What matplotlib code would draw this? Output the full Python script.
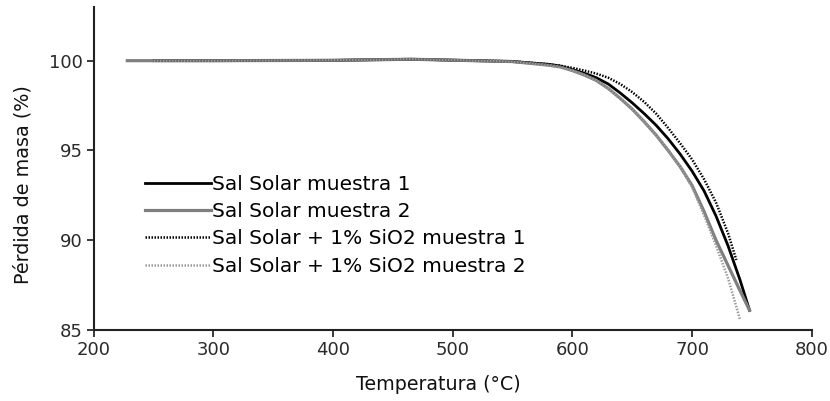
import matplotlib.pyplot as plt

plt.rcParams['font.family'] = ['DejaVu Sans']

# --------------------------
# DATA
# --------------------------
t1 = [250, 300, 400, 465, 500, 550, 580, 590, 600, 610, 620, 630, 640, 650, 660, 670, 680, 690, 700, 710, 720, 730, 740, 748]
m1 = [100, 100, 100.02, 100.08, 100.03, 99.95, 99.8, 99.7, 99.5, 99.3, 99.05, 98.7, 98.2, 97.65, 97.05, 96.4, 95.65, 94.8, 93.85, 92.75, 91.35, 89.7, 87.8, 86.1]

t2 = [228, 300, 400, 465, 500, 550, 580, 590, 600, 610, 620, 630, 640, 650, 660, 670, 680, 690, 700, 710, 720, 730, 740, 748]
m2 = [100, 100, 100.02, 100.08, 100.03, 99.95, 99.75, 99.65, 99.45, 99.2, 98.9, 98.45, 97.9, 97.3, 96.6, 95.85, 95.0, 94.1, 93.05, 91.6, 90.0, 88.6, 87.2, 86.1]

t3 = [250, 300, 400, 465, 500, 550, 580, 590, 600, 610, 620, 630, 640, 650, 660, 670, 680, 690, 700, 710, 720, 730, 737]
m3 = [100, 100, 100.02, 100.08, 100.03, 99.97, 99.8, 99.72, 99.6, 99.45, 99.28, 99.05, 98.7, 98.25, 97.7, 97.05, 96.25, 95.4, 94.5, 93.4, 92.1, 90.4, 88.9]

t4 = [250, 300, 400, 465, 500, 550, 580, 590, 600, 610, 620, 630, 640, 650, 660, 670, 680, 690, 700, 710, 720, 730, 740]
m4 = [100, 100, 100.02, 100.08, 100.03, 99.95, 99.75, 99.65, 99.45, 99.2, 98.9, 98.45, 97.9, 97.3, 96.6, 95.85, 95.0, 94.1, 92.95, 91.4, 89.7, 87.9, 85.6]

labels = ["Sal Solar muestra 1", "Sal Solar muestra 2",
          "Sal Solar + 1% SiO2 muestra 1", "Sal Solar + 1% SiO2 muestra 2"]

xticks = [200, 300, 400, 500, 600, 700, 800]
yticks = [85, 90, 95, 100]

# --------------------------
# PLOT
# --------------------------
fig = plt.figure(figsize=(8.3, 4.01), dpi=100)
ax = fig.add_axes([0.113, 0.177, 0.865, 0.806])

ax.plot(t1, m1, color="black", lw=2.0, label=labels[0])
ax.plot(t2, m2, color="#7f7f7f", lw=2.3, label=labels[1])
ax.plot(t3, m3, color="black", lw=1.8, ls=(0, (0.6, 0.6)), label=labels[2])
ax.plot(t4, m4, color="#9a9a9a", lw=1.8, ls=(0, (0.6, 0.6)), label=labels[3])

ax.set_xlim(200, 800)
ax.set_ylim(85, 103)
ax.set_xticks(xticks)
ax.set_yticks(yticks)
ax.tick_params(direction="out", length=5, width=1.3, labelsize=13, colors="#2a2a2a", pad=3)

for side in ["top", "right"]:
    ax.spines[side].set_visible(False)
for side in ["left", "bottom"]:
    ax.spines[side].set_linewidth(1.5)
    ax.spines[side].set_color("#222222")

ax.set_xlabel("Temperatura (°C)", fontsize=13.7, color="#111111")
ax.set_ylabel("Pérdida de masa (%)", fontsize=13.8, color="#111111")
ax.xaxis.set_label_coords(0.48, -0.14)
ax.yaxis.set_label_coords(-0.086, 0.45)

ax.legend(loc="upper left", bbox_to_anchor=(0.071, 0.481), frameon=False,
          fontsize=14.5, handlelength=3.3, handletextpad=0.05, labelspacing=0.42,
          borderaxespad=0, borderpad=0)

fig.savefig("out.png", dpi=100)
